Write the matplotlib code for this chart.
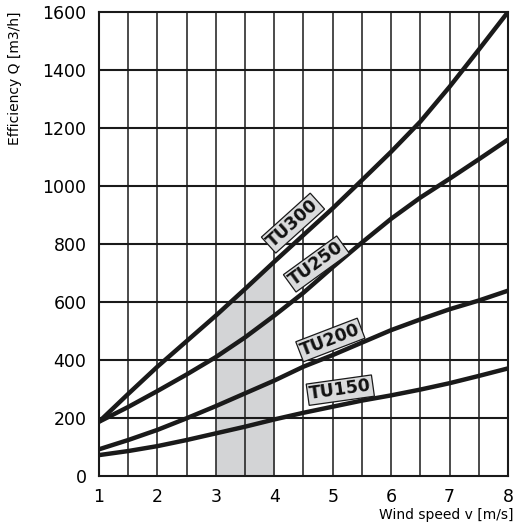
import numpy as np
import matplotlib.pyplot as plt

# wind speed [m/s]
speed = [1, 1.5, 2, 2.5, 3, 3.5, 4, 4.5, 5, 5.5, 6, 6.5, 7, 7.5, 8]

# efficiency Q [m3/h]
tu300 = [187, 283, 377, 465, 553, 645, 739, 831, 923, 1020, 1118, 1222, 1342, 1470, 1600]
tu250 = [187, 238, 293, 350, 410, 478, 553, 632, 720, 805, 887, 960, 1025, 1092, 1160]
tu200 = [92, 124, 159, 199, 241, 285, 329, 377, 417, 460, 503, 540, 575, 605, 639]
tu150 = [72, 86, 103, 124, 147, 170, 195, 218, 239, 260, 278, 298, 320, 345, 371]

names = ["TU300", "TU250", "TU200", "TU150"]
label_x = [4.32, 4.72, 4.96, 5.13]
label_y = [872, 731, 469, 296]
label_rot = [42, 36, 21, 8]

plt.rcParams['font.family'] = ['DejaVu Sans']

fig = plt.figure(figsize=(5.15, 5.28), dpi=100)
ax = fig.add_axes([0.1922, 0.0985, 0.7942, 0.8788])

# shaded band between 3 and 4 m/s, under the TU300 curve
xs = np.array(speed, dtype=float)
band = (xs >= 3) & (xs <= 4)
ax.fill_between(xs[band], 0, np.array(tu300)[band], color='#d3d4d6', lw=0, zorder=1)

for x in np.arange(1.5, 8, 0.5):
    ax.axvline(x, color='#1a1a1a', lw=1.1, zorder=2)
for y in range(200, 1600, 200):
    ax.axhline(y, color='#1a1a1a', lw=1.5, zorder=2)

for q in (tu300, tu250, tu200, tu150):
    ax.plot(speed, q, color='#1a1a1a', lw=3.2, solid_capstyle='butt', zorder=3)

for name, lx, ly, rot in zip(names, label_x, label_y, label_rot):
    ax.text(lx, ly, name, rotation=rot, rotation_mode='anchor', ha='center', va='center',
            fontsize=12.5, fontweight='bold', color='#111111', zorder=5,
            bbox=dict(boxstyle='square,pad=0.1', fc='#dadbdc', ec='#1a1a1a', lw=0.9))

ax.set_xlim(1, 8)
ax.set_ylim(0, 1600)
ax.set_xticks(range(1, 9))
ax.set_yticks(range(0, 1601, 200))
ax.tick_params(length=0, labelsize=12.5, pad=9)
for s in ax.spines.values():
    s.set_linewidth(1.5)
    s.set_color('#1a1a1a')

fig.text(0.029, 0.979, "Efficiency Q [m3/h]", rotation=90, ha='center', va='top', fontsize=10)
fig.text(0.997, 0.012, "Wind speed v [m/s]", ha='right', va='bottom', fontsize=10)

fig.savefig("out.png", dpi=100)
